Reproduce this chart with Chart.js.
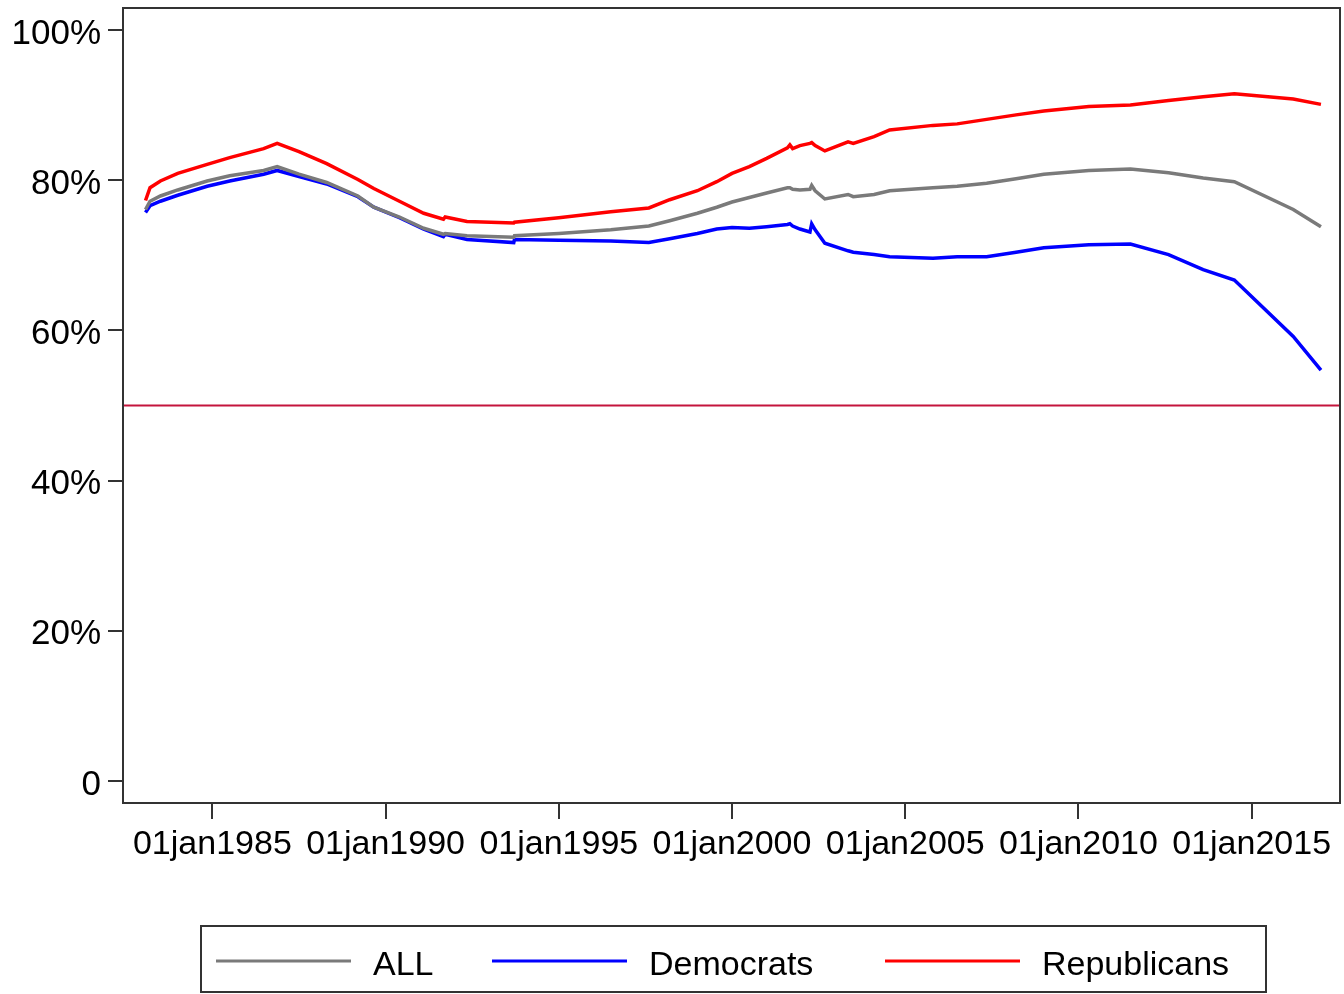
<!DOCTYPE html>
<html>
<head>
<meta charset="utf-8">
<title>Share by party</title>
<script src="https://cdn.jsdelivr.net/npm/chart.js@4.4.1/dist/chart.umd.min.js"></script>
<style>
  html, body { margin: 0; padding: 0; background: #fff; }
</style>
</head>
<body>
<canvas id="line-chart" width="1344" height="994"></canvas>
<script>
// dates as decimal years
const dates = [
  1983.07, 1983.2, 1983.5, 1984.0, 1984.85, 1985.5, 1986.48, 1986.87, 1987.5, 1988.3,
  1989.2, 1989.66, 1990.4, 1991.1, 1991.67, 1991.72, 1992.35, 1993.7, 1993.72, 1995.0,
  1996.5, 1997.6, 1998.2, 1999.0, 1999.56, 2000.0, 2000.5, 2001.0, 2001.6, 2001.67,
  2001.75, 2001.96, 2002.25, 2002.3, 2002.4, 2002.68, 2003.35, 2003.5, 2004.1, 2004.55,
  2005.8, 2006.5, 2007.35, 2008.2, 2009.0, 2010.3, 2011.5, 2012.6, 2013.6, 2014.5,
  2016.2, 2017.0
]
const allValues = [
  76.1, 77.2, 77.9, 78.7, 79.9, 80.6, 81.3, 81.8, 80.8, 79.7,
  77.9, 76.4, 75.1, 73.6, 72.8, 72.9, 72.6, 72.4, 72.6, 72.9,
  73.4, 73.9, 74.6, 75.6, 76.4, 77.1, 77.7, 78.3, 79.0, 79.0,
  78.8, 78.7, 78.8, 79.3, 78.6, 77.5, 78.1, 77.8, 78.1, 78.6,
  79.0, 79.2, 79.6, 80.2, 80.8, 81.3, 81.5, 81.0, 80.3, 79.8,
  76.1, 73.8
]
const demValues = [
  75.7, 76.6, 77.2, 78.0, 79.2, 79.9, 80.8, 81.3, 80.5, 79.5,
  77.8, 76.4, 75.0, 73.5, 72.5, 72.8, 72.1, 71.7, 72.1, 72.0,
  71.9, 71.7, 72.2, 72.9, 73.5, 73.7, 73.6, 73.8, 74.1, 74.2,
  73.9, 73.5, 73.1, 74.2, 73.4, 71.6, 70.6, 70.4, 70.1, 69.8,
  69.6, 69.8, 69.8, 70.4, 71.0, 71.4, 71.5, 70.1, 68.1, 66.7,
  59.2, 54.7
]
const repValues = [
  77.3, 79.0, 79.9, 80.9, 82.1, 83.0, 84.2, 84.9, 83.8, 82.2,
  80.1, 78.9, 77.2, 75.6, 74.8, 75.1, 74.5, 74.3, 74.4, 75.0,
  75.8, 76.3, 77.4, 78.6, 79.8, 80.9, 81.8, 82.9, 84.3, 84.7,
  84.2, 84.6, 84.9, 85.0, 84.6, 83.9, 85.1, 84.9, 85.8, 86.7,
  87.3, 87.5, 88.1, 88.7, 89.2, 89.8, 90.0, 90.6, 91.1, 91.5,
  90.8, 90.1
]
const seriesLabels = ['ALL', 'Democrats', 'Republicans']
const seriesColors = ['#7a7a7a', '#0000ff', '#ff0000']

const xTickYears = [1985, 1990, 1995, 2000, 2005, 2010, 2015]
const xTickLabels = ['01jan1985', '01jan1990', '01jan1995', '01jan2000', '01jan2005', '01jan2010', '01jan2015']
const yTickValues = [0, 20, 40, 60, 80, 100]
const yTickLabels = ['0', '20%', '40%', '60%', '80%', '100%']
const majorityLine = 50

const fontFamily = '"Liberation Sans", Arial, Helvetica, sans-serif'
const frameColor = '#333333'

function toPoints(values) {
    return dates.map((d, i) => ({ x: d, y: values[i] }))
}

// horizontal reference line at 50%
const refLinePlugin = {
    id: 'refLine',
    beforeDatasetsDraw(chart) {
        const { ctx, chartArea, scales } = chart
        const y = scales.y.getPixelForValue(majorityLine)
        ctx.save()
        ctx.strokeStyle = '#c4143c'
        ctx.lineWidth = 2
        ctx.beginPath()
        ctx.moveTo(chartArea.left, y)
        ctx.lineTo(chartArea.right, y)
        ctx.stroke()
        ctx.restore()
    }
}

// box round the plot region
const framePlugin = {
    id: 'frame',
    afterDraw(chart) {
        const { ctx, chartArea } = chart
        ctx.save()
        ctx.strokeStyle = frameColor
        ctx.lineWidth = 2
        ctx.strokeRect(chartArea.left, chartArea.top, chartArea.right - chartArea.left, chartArea.bottom - chartArea.top)
        ctx.restore()
    }
}

// boxed legend below the axis, one column per series
const boxLegendPlugin = {
    id: 'boxLegend',
    afterDraw(chart) {
        const ctx = chart.ctx
        const box = { left: 201, top: 926, right: 1266, bottom: 992 }
        const sampleX = [216, 492, 885]
        const sampleLen = 135
        const textGap = 22
        ctx.save()
        ctx.strokeStyle = frameColor
        ctx.lineWidth = 2
        ctx.strokeRect(box.left, box.top, box.right - box.left, box.bottom - box.top)
        ctx.font = '34px ' + fontFamily
        ctx.fillStyle = '#000'
        ctx.textBaseline = 'alphabetic'
        chart.data.datasets.forEach((ds, i) => {
            ctx.strokeStyle = ds.borderColor
            ctx.lineWidth = 3
            ctx.beginPath()
            ctx.moveTo(sampleX[i], 961)
            ctx.lineTo(sampleX[i] + sampleLen, 961)
            ctx.stroke()
            ctx.fillText(ds.label, sampleX[i] + sampleLen + textGap, 975)
        })
        ctx.restore()
    }
}

// keep tick labels from pushing the plot area inward
function noEdgePadding(axis) {
    axis.paddingTop = 0
    axis.paddingBottom = 0
    axis.paddingLeft = 0
    axis.paddingRight = 0
}

const config = {
    type: 'line',
    data: {
        datasets: [allValues, demValues, repValues].map((values, i) => ({
            label: seriesLabels[i],
            data: toPoints(values),
            borderColor: seriesColors[i],
            backgroundColor: seriesColors[i],
            borderWidth: 3.5,
            pointRadius: 0,
            tension: 0,
            fill: false
        }))
    },
    options: {
        responsive: false,
        animation: false,
        layout: { autoPadding: false, padding: { top: 8, right: 4, left: 0, bottom: 0 } },
        plugins: {
            legend: { display: false },
            tooltip: { enabled: false }
        },
        scales: {
            x: {
                type: 'linear',
                min: 1982.42,
                max: 2017.55,
                afterBuildTicks: axis => { axis.ticks = xTickYears.map(v => ({ value: v })) },
                afterFit: axis => { axis.height = 191; noEdgePadding(axis) },
                ticks: {
                    autoSkip: false,
                    maxRotation: 0,
                    padding: 5,
                    color: '#000',
                    font: { family: fontFamily, size: 34 },
                    callback: (value, index) => xTickLabels[index]
                },
                grid: { drawOnChartArea: false, tickLength: 16, color: frameColor, lineWidth: 2 },
                border: { color: frameColor, width: 2 }
            },
            y: {
                min: -2.93,
                max: 102.93,
                afterBuildTicks: axis => { axis.ticks = yTickValues.map(v => ({ value: v })) },
                afterFit: axis => { axis.width = 123; noEdgePadding(axis) },
                ticks: {
                    padding: 7,
                    labelOffset: 4,
                    color: '#000',
                    font: { family: fontFamily, size: 35 },
                    callback: (value, index) => yTickLabels[index]
                },
                grid: { drawOnChartArea: false, tickLength: 15, color: frameColor, lineWidth: 2 },
                border: { color: frameColor, width: 2 }
            }
        }
    },
    plugins: [refLinePlugin, framePlugin, boxLegendPlugin]
}

new Chart(document.getElementById('line-chart').getContext('2d'), config)
</script>
</body>
</html>
